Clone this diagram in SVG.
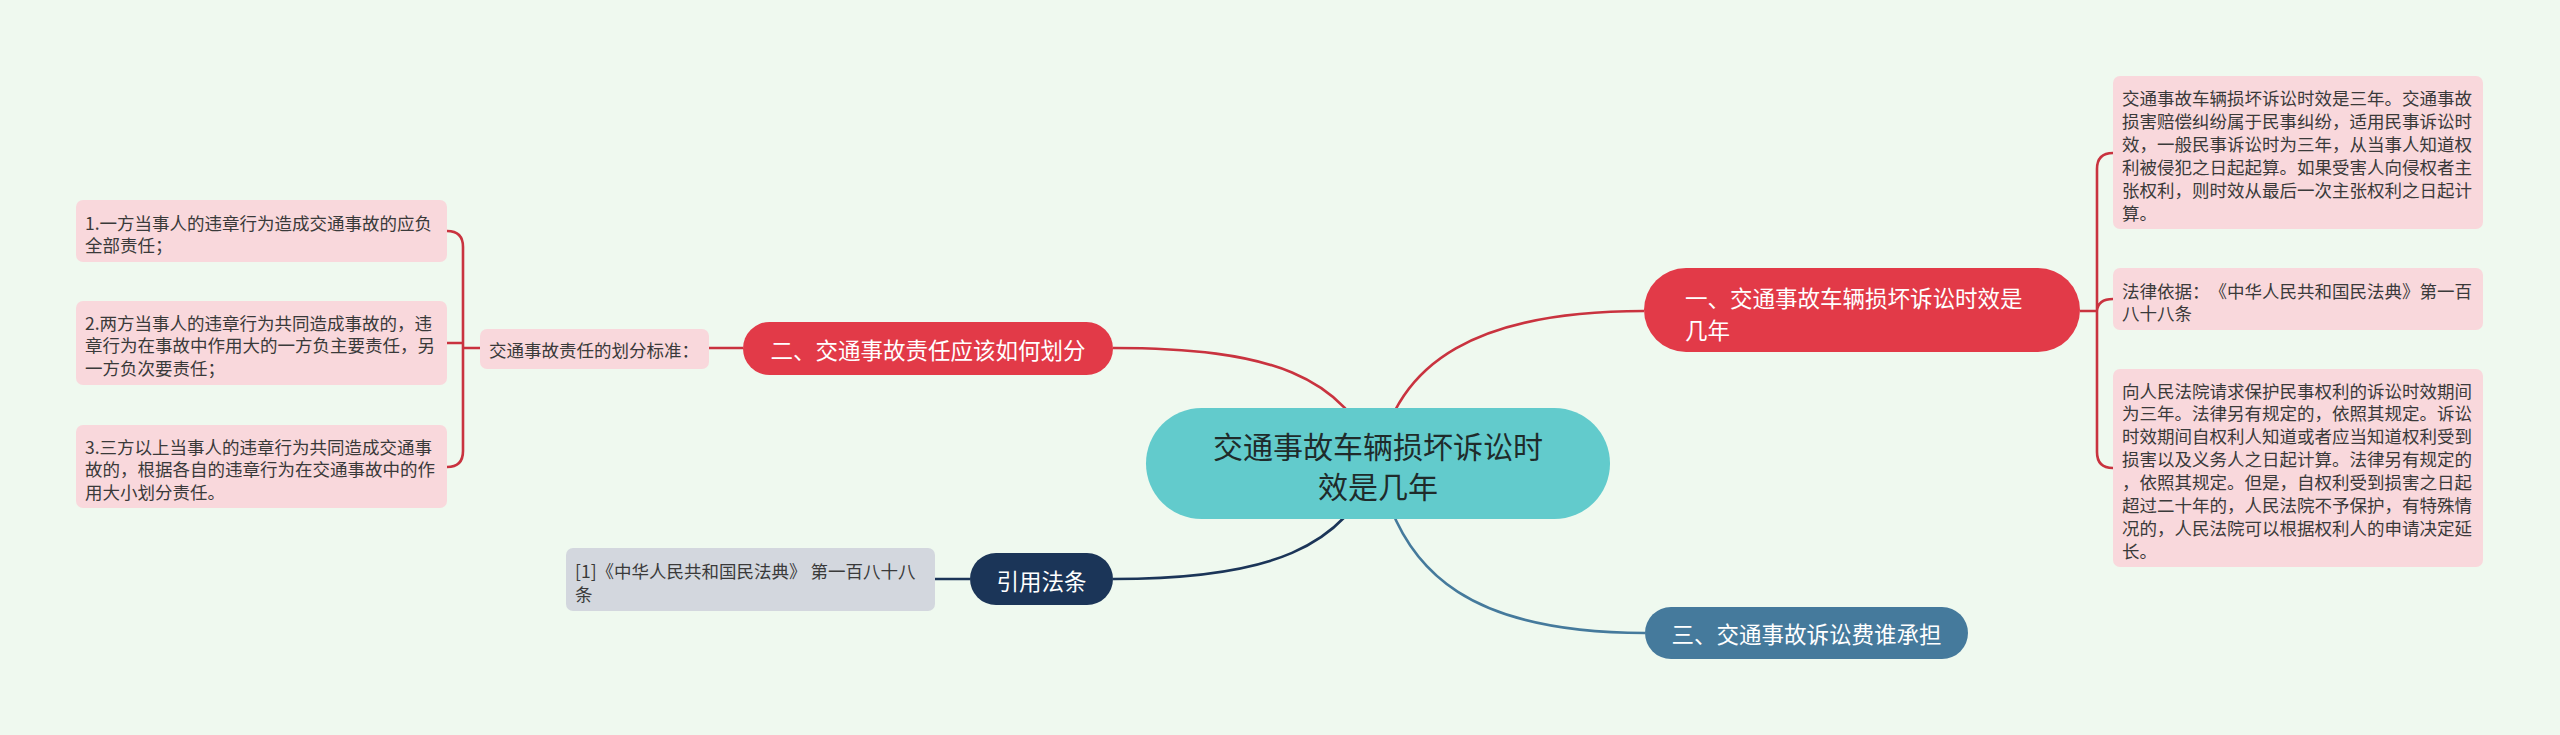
<svg xmlns="http://www.w3.org/2000/svg" width="2560" height="735" viewBox="0 0 2560 735">
<style>
.bg{fill:#eff9ef}
.t{font-family:"Noto Sans CJK SC","Noto Sans",sans-serif;dominant-baseline:central;text-spacing-trim:space-all}
.leaf{fill:#f9d8dc}
.leaft{font-size:17.5px;fill:#3a3a3a}
.main{font-size:22.5px;fill:#ffffff}
.red{fill:#e23a48}
.lr{fill:none;stroke:#c9333f;stroke-width:2.6}
.ln{fill:none;stroke:#1b3558;stroke-width:2.6}
.lb{fill:none;stroke:#457a9c;stroke-width:2.6}
</style>
<rect class="bg" x="0" y="0" width="2560" height="735"/>
<g id="connectors">
<path class="lr" d="M1113,348 C1270,348 1345,375 1378,463"/>
<path class="lr" d="M1644,311 C1480,311 1395,360 1378,463"/>
<path class="ln" d="M1113,579 C1270,579 1345,548 1378,463"/>
<path class="lb" d="M1645,633 C1480,633 1400,580 1378,463"/>
<path class="lr" d="M743,348 L709,348"/>
<path class="lr" d="M480,348 L463,348 M447,231 Q463,231 463,247 L463,451 Q463,467 447,467 M447,343 L463,343"/>
<path class="lr" d="M2080,311 L2097,311 M2113,153 Q2097,153 2097,169 L2097,452 Q2097,468 2113,468 M2097,311 Q2098,299 2113,299"/>
<path class="ln" d="M970,579 L935,579"/>
</g>
<g id="center">
<rect x="1146" y="408" width="464" height="111" rx="55.5" fill="#62cbcc"/>
<text class="t" x="1378" y="445" font-size="30" fill="#1f2b2b" text-anchor="middle">交通事故车辆损坏诉讼时</text>
<text class="t" x="1378" y="485" font-size="30" fill="#1f2b2b" text-anchor="middle">效是几年</text>
</g>
<g id="n1">
<rect class="red" x="1644" y="268" width="436" height="84" rx="42"/>
<text class="t main" x="1685" y="297">一、交通事故车辆损坏诉讼时效是</text>
<text class="t main" x="1685" y="329">几年</text>
</g>
<g id="n1a">
<rect class="leaf" x="2113" y="76" width="370" height="153" rx="7"/>
<text class="t leaft" x="2122" y="97.5">交通事故车辆损坏诉讼时效是三年。交通事故</text>
<text class="t leaft" x="2122" y="120.4">损害赔偿纠纷属于民事纠纷，适用民事诉讼时</text>
<text class="t leaft" x="2122" y="143.3">效，一般民事诉讼时为三年，从当事人知道权</text>
<text class="t leaft" x="2122" y="166.2">利被侵犯之日起起算。如果受害人向侵权者主</text>
<text class="t leaft" x="2122" y="189.1">张权利，则时效从最后一次主张权利之日起计</text>
<text class="t leaft" x="2122" y="212">算。</text>
</g>
<g id="n1b">
<rect class="leaf" x="2113" y="268" width="370" height="62" rx="7"/>
<text class="t leaft" x="2122" y="290">法律依据：《中华人民共和国民法典》第一百</text>
<text class="t leaft" x="2122" y="312.5">八十八条</text>
</g>
<g id="n1c">
<rect class="leaf" x="2113" y="369" width="370" height="198" rx="7"/>
<text class="t leaft" x="2122" y="390">向人民法院请求保护民事权利的诉讼时效期间</text>
<text class="t leaft" x="2122" y="412.9">为三年。法律另有规定的，依照其规定。诉讼</text>
<text class="t leaft" x="2122" y="435.8">时效期间自权利人知道或者应当知道权利受到</text>
<text class="t leaft" x="2122" y="458.7">损害以及义务人之日起计算。法律另有规定的</text>
<text class="t leaft" x="2122" y="481.6">，依照其规定。但是，自权利受到损害之日起</text>
<text class="t leaft" x="2122" y="504.5">超过二十年的，人民法院不予保护，有特殊情</text>
<text class="t leaft" x="2122" y="527.4">况的，人民法院可以根据权利人的申请决定延</text>
<text class="t leaft" x="2122" y="550.3">长。</text>
</g>
<g id="n2">
<rect class="red" x="743" y="322" width="370" height="53" rx="26.5"/>
<text class="t main" x="928" y="349" text-anchor="middle">二、交通事故责任应该如何划分</text>
</g>
<g id="n2a">
<rect class="leaf" x="480" y="329" width="229" height="40" rx="7"/>
<text class="t leaft" x="489" y="349.5">交通事故责任的划分标准：</text>
</g>
<g id="n2a1">
<rect class="leaf" x="76" y="200" width="371" height="62" rx="7"/>
<text class="t leaft" x="85" y="222">1.一方当事人的违章行为造成交通事故的应负</text>
<text class="t leaft" x="85" y="244.5">全部责任；</text>
</g>
<g id="n2a2">
<rect class="leaf" x="76" y="301" width="371" height="84" rx="7"/>
<text class="t leaft" x="85" y="322">2.两方当事人的违章行为共同造成事故的，违</text>
<text class="t leaft" x="85" y="344.5">章行为在事故中作用大的一方负主要责任，另</text>
<text class="t leaft" x="85" y="367">一方负次要责任；</text>
</g>
<g id="n2a3">
<rect class="leaf" x="76" y="425" width="371" height="83" rx="7"/>
<text class="t leaft" x="85" y="446">3.三方以上当事人的违章行为共同造成交通事</text>
<text class="t leaft" x="85" y="468.5">故的，根据各自的违章行为在交通事故中的作</text>
<text class="t leaft" x="85" y="491">用大小划分责任。</text>
</g>
<g id="n3">
<rect x="970" y="553" width="143" height="52" rx="26" fill="#1b3558"/>
<text class="t main" x="1041.5" y="580" text-anchor="middle">引用法条</text>
</g>
<g id="n3a">
<rect x="566" y="548" width="369" height="63" rx="7" fill="#d3d7de"/>
<text class="t leaft" x="575" y="570">[1]《中华人民共和国民法典》 第一百八十八</text>
<text class="t leaft" x="575" y="593">条</text>
</g>
<g id="n4">
<rect x="1645" y="607" width="323" height="52" rx="26" fill="#457a9c"/>
<text class="t main" x="1806.5" y="633" text-anchor="middle">三、交通事故诉讼费谁承担</text>
</g>
</svg>
